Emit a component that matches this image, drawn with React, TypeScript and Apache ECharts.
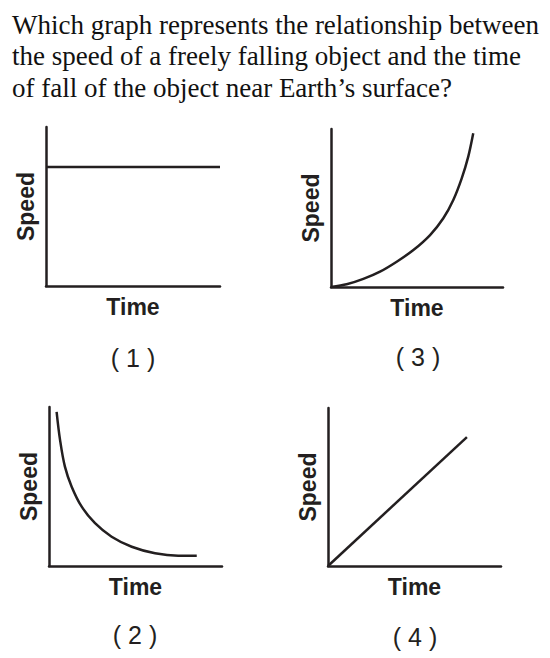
import React, { useEffect, useRef } from "react";
import * as echarts from "echarts";

const questionLines = [
  "Which graph represents the relationship between",
  "the speed of a freely falling object and the time",
  "of fall of the object near Earth\u2019s surface?",
];
const panelLabels = ["( 1 )", "( 2 )", "( 3 )", "( 4 )"];
const xName = "Time";
const yName = "Speed";

// Graph (1): constant speed
const g1Time = [0, 10];
const g1Speed = [7.48, 7.48];
// Graph (2): decreasing curve
const g2Time = [0.44, 0.64, 0.92, 1.31, 1.89, 2.66, 3.62, 4.78, 6.13, 7.47, 8.54];
const g2Speed = [9.7, 7.92, 6.25, 4.99, 3.73, 2.69, 1.84, 1.21, 0.8, 0.65, 0.65];
// Graph (3): increasing curve
const g3Time = [0, 0.91, 1.88, 2.85, 3.82, 4.79, 5.76, 6.53, 7.11, 7.6, 7.98, 8.27];
const g3Speed = [0, 0.17, 0.51, 0.97, 1.6, 2.34, 3.29, 4.35, 5.51, 6.88, 8.25, 9.73];
// Graph (4): straight line
const g4Time = [0, 8.03];
const g4Speed = [0, 8.16];

const INK = "#231f20";

const zip = (a: number[], b: number[]) => a.map((v, i) => [v, b[i]]);

export default function App() {
  const ref = useRef<HTMLDivElement>(null);
  useEffect(() => {
    if (!ref.current) return;
    const chart = echarts.init(ref.current, undefined, { renderer: "svg" });
    const grids = [
      { left: 46, top: 127, width: 174, height: 159 },
      { left: 49, top: 407, width: 173, height: 159 },
      { left: 331, top: 129, width: 172, height: 158 },
      { left: 328, top: 408, width: 173, height: 158 },
    ];
    const axisCommon = {
      type: "value" as const,
      min: 0,
      max: 10,
      axisLine: { show: true, onZero: false, lineStyle: { color: INK, width: 2.5 } },
      axisTick: { show: false },
      axisLabel: { show: false },
      splitLine: { show: false },
      nameLocation: "middle" as const,
      nameTextStyle: {
        fontFamily: "Liberation Sans, Arial, sans-serif",
        fontWeight: "bold" as const,
        fontSize: 23,
        color: INK,
      },
    };
    const datasets = [
      zip(g1Time, g1Speed),
      zip(g2Time, g2Speed),
      zip(g3Time, g3Speed),
      zip(g4Time, g4Speed),
    ];
    const smooths = [false, 0.35, 0.3, false];
    const labelPos = [
      [133, 358],
      [135, 635],
      [418, 357],
      [415, 637],
    ];
    const option = {
      animation: false,
      backgroundColor: "#ffffff",
      grid: grids,
      xAxis: grids.map((_, i) => ({ ...axisCommon, gridIndex: i, name: xName, nameGap: 9 })),
      yAxis: grids.map((_, i) => ({ ...axisCommon, gridIndex: i, name: yName, nameGap: 9 })),
      series: datasets.map((d, i) => ({
        type: "line",
        xAxisIndex: i,
        yAxisIndex: i,
        data: d,
        smooth: smooths[i],
        symbol: "none",
        lineStyle: { color: INK, width: 2.5 },
      })),
      graphic: [
        ...questionLines.map((t, i) => ({
          type: "text",
          left: 12,
          top: 11 + i * 31.5,
          style: {
            text: t,
            fontFamily: "Liberation Serif, Times New Roman, serif",
            fontSize: 27,
            fill: "#111111",
          },
        })),
        ...panelLabels.map((t, i) => ({
          type: "text",
          x: labelPos[i][0],
          y: labelPos[i][1],
          style: {
            text: t,
            fontFamily: "Liberation Sans, Arial, sans-serif",
            fontSize: 25,
            fill: INK,
            align: "center",
            verticalAlign: "middle",
          },
        })),
      ],
    };
    chart.setOption(option as any);
    return () => chart.dispose();
  }, []);
  return (
    <div
      ref={ref}
      style={{ position: "fixed", left: 0, top: 0, width: 550, height: 658, background: "#fff" }}
    />
  );
}
